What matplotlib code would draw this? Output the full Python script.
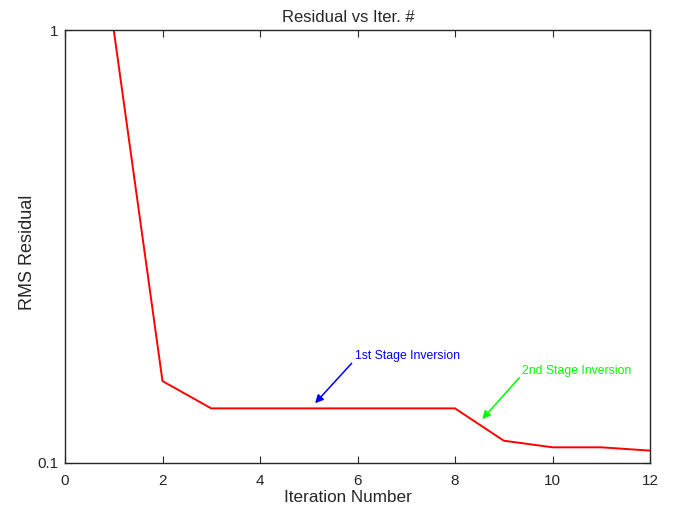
'''
Residual vs iteration number (log y) with stage-inversion annotations.
'''
import numpy as np
import matplotlib as mpl
mpl.use('Agg')
from matplotlib import pyplot as plt

mpl.rcParams['font.family'] = ['Liberation Sans', 'DejaVu Sans']

# data
iters    = [1, 2, 3, 4, 5, 6, 7, 8, 9, 10, 11, 12]
rms      = [1.0, 0.1546, 0.1337, 0.1337, 0.1337, 0.1337, 0.1337, 0.1337, 0.1126, 0.1087, 0.1087, 0.1068]

labels   = ['1st Stage Inversion', '2nd Stage Inversion']
heads    = [(5.13, 0.1374), (8.56, 0.1263)]
tails    = [(5.88, 0.1699), (9.32, 0.1574)]
textpos  = [(5.95, 0.1769), (9.38, 0.1631)]
acolors  = ['#0000ff', '#00ff00']

xticks   = [0, 2, 4, 6, 8, 10, 12]
yticks   = [0.1, 1]

plt.close('all')
fig = plt.figure(figsize=(6.78, 5.08), dpi=100)
ax = fig.add_axes([65/678, 1-463/508, 585/678, 433/508])

ax.plot(iters, rms, color='#ff0000', lw=1.4, clip_on=True)
ax.set_yscale('log')
ax.set_xlim(0, 12)
ax.set_ylim(0.1, 1)
ax.set_xticks(xticks)
ax.set_xticklabels([str(t) for t in xticks])
ax.set_yticks(yticks)
ax.set_yticklabels(['0.1', '1'])
ax.yaxis.set_minor_locator(mpl.ticker.NullLocator())

for sp in ax.spines.values():
    sp.set_color('#262626')
    sp.set_linewidth(1.0)
ax.tick_params(direction='in', length=5, width=0.8, colors='#262626',
               top=True, right=True, labelsize=11, labelcolor='#262626')
ax.tick_params(axis='x', pad=8)
ax.tick_params(axis='y', pad=5)

for s, h, t, p, c in zip(labels, heads, tails, textpos, acolors):
    ax.annotate('', xy=h, xytext=t,
                arrowprops=dict(arrowstyle='-|>', color=c, lw=1.1,
                                mutation_scale=12, shrinkA=0, shrinkB=0))
    ax.text(p[0], p[1], s, color=c, fontsize=8.8, ha='left', va='center')

ax.text(0.484, 1.0 + 12/433, 'Residual vs Iter. #', transform=ax.transAxes,
        fontsize=12, color='#262626', ha='center', va='center')
ax.text(0.484, -34/433, 'Iteration Number', transform=ax.transAxes,
        fontsize=12.3, color='#262626', ha='center', va='center')
ax.text(-37/585, 0.487, 'RMS Residual', transform=ax.transAxes, rotation=90,
        fontsize=13, color='#262626', ha='center', va='center')

fig.savefig('out.png', dpi=100)
